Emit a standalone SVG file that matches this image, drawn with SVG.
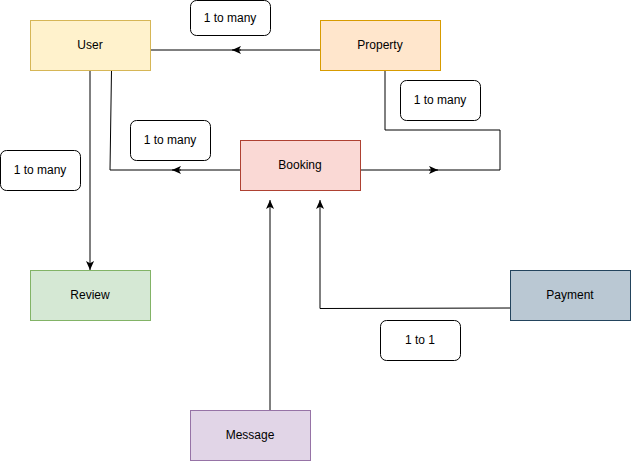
<svg xmlns="http://www.w3.org/2000/svg" width="631" height="461" viewBox="0 0 631 461">
<defs>
<marker id="arr" viewBox="0 0 10 10" refX="10" refY="5" markerUnits="userSpaceOnUse" markerWidth="9" markerHeight="9" orient="auto">
<path d="M0,0.5 L10,5 L0,9.5 L2.5,5 z" fill="#000"/>
</marker>
</defs>
<style>
text{font-family:"Liberation Sans",Arial,sans-serif;font-size:12px;fill:#000;text-anchor:middle;dominant-baseline:central}
.lbl rect{fill:#fff;stroke:#000;stroke-width:1}
.edge{fill:none;stroke:#000;stroke-width:1}
</style>
<g id="connectors">
<path class="edge" d="M320,50 L150,50"/>
<path class="edge" d="M241,50 L232,50" marker-end="url(#arr)"/>
<path class="edge" d="M90,70 L90,270" marker-end="url(#arr)"/>
<path class="edge" d="M240,170 L110,170 L111.5,70"/>
<path class="edge" d="M181,170 L172,170" marker-end="url(#arr)"/>
<path class="edge" d="M385,70 L385,130 L500,130 L500,170 L360,170"/>
<path class="edge" d="M429,170 L438,170" marker-end="url(#arr)"/>
<path class="edge" d="M510,308 L320,308.5 L320,200" marker-end="url(#arr)"/>
<path class="edge" d="M270,410 L270,200" marker-end="url(#arr)"/>
</g>
<g id="user"><rect x="30.5" y="20.5" width="120" height="50" fill="#fff2cc" stroke="#d6b656"/><text x="90" y="45">User</text></g>
<g id="property"><rect x="320.5" y="20.5" width="120" height="50" fill="#ffe6cc" stroke="#d79b00"/><text x="380" y="45">Property</text></g>
<g id="booking"><rect x="240.5" y="140.5" width="120" height="50" fill="#fad9d5" stroke="#ae4132"/><text x="300" y="165">Booking</text></g>
<g id="review"><rect x="30.5" y="270.5" width="120" height="50" fill="#d5e8d4" stroke="#82b366"/><text x="90" y="295">Review</text></g>
<g id="payment"><rect x="510.5" y="270.5" width="120" height="50" fill="#bac8d3" stroke="#23445d"/><text x="570" y="295">Payment</text></g>
<g id="message"><rect x="190.5" y="410.5" width="120" height="50" fill="#e1d5e7" stroke="#9673a6"/><text x="250" y="435">Message</text></g>
<g id="label1" class="lbl"><rect x="190.5" y="0.5" width="80" height="35" rx="6"/><text x="230" y="18">1 to many</text></g>
<g id="label2" class="lbl"><rect x="400.5" y="80.5" width="80" height="40" rx="6"/><text x="440" y="100">1 to many</text></g>
<g id="label3" class="lbl"><rect x="130.5" y="120.5" width="80" height="40" rx="6"/><text x="170" y="140">1 to many</text></g>
<g id="label4" class="lbl"><rect x="0.5" y="150.5" width="80" height="40" rx="6"/><text x="40" y="170">1 to many</text></g>
<g id="label5" class="lbl"><rect x="380.5" y="320.5" width="80" height="40" rx="6"/><text x="420" y="340">1 to 1</text></g>
</svg>
